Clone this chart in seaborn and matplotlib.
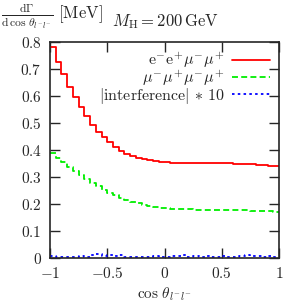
import numpy as np
import pandas as pd
import matplotlib
matplotlib.use("Agg")
import matplotlib.pyplot as plt
import seaborn as sns

# bin edges -1..1, width 0.05
edges = np.round(np.linspace(-1, 1, 41), 3)
red = [0.78, 0.725, 0.68, 0.635, 0.595, 0.56, 0.525, 0.493, 0.468, 0.447,
       0.428, 0.412, 0.398, 0.387, 0.378, 0.371, 0.366, 0.362, 0.359, 0.356,
       0.354, 0.353, 0.352, 0.352, 0.353, 0.352, 0.352, 0.353, 0.352, 0.352,
       0.351, 0.351, 0.35, 0.349, 0.348, 0.347, 0.346, 0.344, 0.342, 0.339]
green = [0.39, 0.372, 0.355, 0.338, 0.322, 0.306, 0.291, 0.277, 0.265, 0.253,
         0.242, 0.232, 0.223, 0.215, 0.208, 0.202, 0.197, 0.193, 0.189, 0.186,
         0.184, 0.182, 0.181, 0.18, 0.18, 0.179, 0.179, 0.179, 0.178, 0.178,
         0.178, 0.177, 0.177, 0.176, 0.176, 0.175, 0.175, 0.174, 0.173, 0.172]
blue = [0.006, 0.004, 0.003, 0.002, 0.004, 0.007, 0.005, 0.01, 0.014, 0.008,
        0.012, 0.006, 0.01, 0.004, 0.003, 0.002, 0.005, 0.004, 0.006, 0.002,
        0.003, 0.007, 0.006, 0.01, 0.004, 0.008, 0.005, 0.009, 0.004, 0.003,
        0.006, 0.003, 0.005, 0.007, 0.01, 0.006, 0.008, 0.004, 0.006, 0.003]
labels = [r"$\mathrm{e}^{-}\mathrm{e}^{+}\mu^{-}\mu^{+}$",
          r"$\mu^{-}\mu^{+}\mu^{-}\mu^{+}$",
          r"$|\mathrm{interference}|\,*\,10$"]
colors = ["#ff0000", "#00ee00", "#0000ff"]
styles = ["-", (0, (3.3, 1.8)), (0, (1.4, 1.8))]
xticks = [-1, -0.5, 0, 0.5, 1]
xticklabels = [r"$-1$", r"$-0.5$", r"$0$", r"$0.5$", r"$1$"]
yticks = [0, 0.1, 0.2, 0.3, 0.4, 0.5, 0.6, 0.7, 0.8]
yticklabels = [r"$0$"] + [r"$%.1f$" % v for v in yticks[1:]]

sns.set_style("ticks")
plt.rcParams["mathtext.fontset"] = "cm"
plt.rcParams["font.family"] = ["DejaVu Serif"]

frames = []
for lab, vals in zip(labels, [red, green, blue]):
    frames.append(pd.DataFrame({"x": edges, "y": list(vals) + [vals[-1]], "series": lab}))
df = pd.concat(frames, ignore_index=True)

fig = plt.figure(figsize=(2.86, 3.02), dpi=100)
ax = fig.add_axes([50 / 286, 1 - 258 / 302, 229 / 286, 216 / 302])
for lab, c, ls in zip(labels, colors, styles):
    sub = df[df["series"] == lab]
    sns.lineplot(data=sub, x="x", y="y", ax=ax, color=c, linestyle=ls,
                 drawstyle="steps-post", linewidth=1.3, label=lab)

ax.set_xlim(-1, 1)
ax.set_ylim(0, 0.8)
ax.set_xticks(xticks)
ax.set_xticklabels(xticklabels, fontsize=11)
ax.set_yticks(yticks)
ax.set_yticklabels(yticklabels, fontsize=11)
ax.tick_params(direction="in", length=7, width=1, top=True, right=True, pad=6)
for s in ax.spines.values():
    s.set_linewidth(1.2)
ax.set_xlabel(r"$\cos\,\theta_{l^{-}l^{-}}$", fontsize=11, labelpad=3)
ax.set_ylabel("")
leg = ax.legend(loc="upper right", frameon=False, markerfirst=False,
                fontsize=11.5, handlelength=2.4, labelspacing=-0.12,
                handletextpad=0.45, borderaxespad=0.25, borderpad=0.3)
for t in leg.get_texts():
    t.set_ha("right")
leg._legend_box.align = "right"

fig.text(0.005, 0.995, r"$\frac{\mathrm{d}\Gamma}{\mathrm{d}\,\cos\,\theta_{l^{-}l^{-}}}\ [\mathrm{MeV}]$",
         fontsize=12, va="top", ha="left")
fig.text(0.58, 0.93, r"$M_{\mathrm{H}} = 200\,\mathrm{GeV}$", fontsize=12,
         ha="center", va="center")

fig.savefig("out.png", dpi=100)
